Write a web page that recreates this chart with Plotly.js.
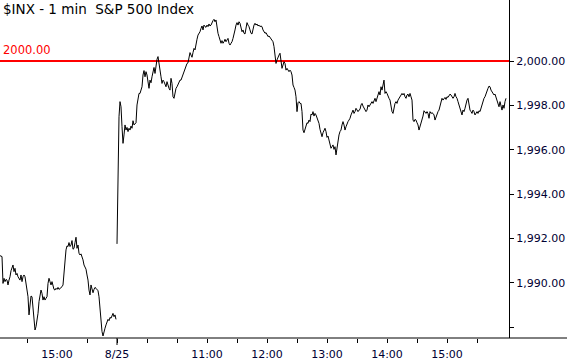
<!DOCTYPE html>
<html><head><meta charset="utf-8">
<script src="https://cdn.plot.ly/plotly-3.0.1.min.js"></script>
<style>html,body{margin:0;padding:0;background:#fff;}#chart{width:567px;height:360px;}</style>
</head><body><div id="chart"></div>
<script>
// minutes relative to the 8/25 open (9:30); prior session collapsed so its 16:00 close meets the open
const prevDayStartMin = -117;
const prevDayClose = [
1991.23,1991.22,1991.19,1989.98,1990.21,1990.06,1990.16,1990.13,1989.91,1990.13,
1990.28,1990.55,1990.66,1990.81,1990.51,1990.66,1990.36,1990.43,1990.28,1990.21,
1990.13,1990.36,1990.06,1990.28,1990.36,1990.28,1989.98,1989.71,1989.38,1988.56,
1989.23,1989.41,1989.38,1988.78,1988.41,1987.88,1988.03,1988.26,1988.63,1989.16,
1989.53,1989.68,1989.53,1989.23,1989.38,1989.23,1989.31,1989.38,1989.98,1990.21,
1990.06,1989.91,1990.06,1989.83,1989.71,1989.68,1989.76,1989.71,1989.80,1989.71,
1989.74,1989.76,1989.83,1989.91,1990.51,1990.89,1991.49,1991.67,1991.64,1991.82,
1991.64,1991.71,1991.91,1991.52,1991.56,1991.82,1992.06,1991.56,1991.71,1991.34,
1991.26,1991.31,1991.19,1991.04,1990.81,1990.74,1990.62,1990.36,1990.13,1989.68,
1989.46,1989.91,1989.68,1989.56,1989.71,1989.80,1989.76,1989.68,1989.65,1989.38,
1988.78,1988.26,1987.81,1987.61,1987.88,1987.96,1988.11,1988.26,1988.36,1988.30,
1988.45,1988.41,1988.51,1988.63,1988.48,1988.56,1988.36
];
const sessionStartMin = 0;
const sessionClose = [
1991.76,1996.14,1997.49,1998.17,1997.94,1997.04,1996.29,1996.67,1997.12,1996.89,
1997.01,1996.82,1996.97,1996.89,1997.07,1996.97,1997.31,1997.12,1997.16,1997.22,
1998.02,1998.42,1998.54,1998.54,1998.69,1998.84,1999.37,1999.57,1999.29,1999.52,
1999.37,1998.92,1998.77,1999.14,1999.02,1999.29,1999.62,1999.71,1999.44,1999.82,
2000.08,2000.20,1999.82,1999.71,1999.29,1998.99,1999.14,1999.07,1998.92,1998.84,
1999.07,1998.84,1998.77,1998.69,1999.22,1998.99,1998.39,1998.32,1998.62,1998.77,
1998.84,1998.92,1999.02,1999.14,1999.14,1999.27,1999.35,1999.57,1999.67,1999.74,
1999.89,1999.92,2000.12,2000.38,2000.27,2000.17,2000.38,2000.57,2000.50,2000.83,
2000.98,2001.17,2001.25,2001.32,2001.47,2001.58,2001.40,2001.62,2001.55,2001.52,
2001.62,2001.55,2001.67,2001.58,2001.62,2001.77,2001.82,2001.88,2001.77,2001.85,
2001.47,2001.25,2001.10,2000.87,2000.80,2000.92,2000.80,2000.87,2000.98,2000.87,
2000.95,2001.02,2000.80,2000.72,2000.80,2000.87,2001.02,2001.17,2001.40,2001.62,
2001.73,2001.62,2001.77,2001.70,2001.55,2001.32,2001.40,2001.25,2001.22,2001.47,
2001.73,2001.62,2001.55,2001.40,2001.25,2001.22,2001.47,2001.62,2001.70,2001.62,
2001.67,2001.58,2001.62,2001.55,2001.58,2001.55,2001.40,2001.32,2001.25,2001.28,
2001.17,2001.10,2001.13,2001.07,2001.02,2000.98,2000.87,2000.65,2000.35,1999.89,
2000.05,2000.20,2000.27,2000.35,1999.89,1999.67,1999.82,1999.97,1999.89,1999.59,
1999.67,1999.59,1999.52,1999.59,1999.52,1999.37,1998.92,1998.81,1998.69,1998.39,
1997.72,1998.12,1998.17,1998.09,1998.09,1997.72,1996.89,1996.77,1996.97,1997.07,
1997.22,1997.19,1997.34,1997.27,1997.61,1997.57,1997.72,1997.52,1997.64,1997.57,
1997.42,1997.27,1997.19,1996.92,1996.74,1996.59,1996.77,1996.89,1996.97,1996.82,
1996.56,1996.62,1996.47,1996.29,1996.07,1996.14,1996.22,1996.02,1996.14,1995.77,
1996.14,1996.44,1996.67,1996.82,1996.89,1997.12,1997.27,1997.12,1996.89,1997.04,
1997.19,1997.27,1997.34,1997.42,1997.57,1997.72,1997.79,1997.64,1997.72,1997.87,
1997.79,1997.72,1997.79,1997.82,1998.02,1998.09,1997.97,1997.87,1997.79,1997.72,
1997.79,1998.02,1997.94,1998.02,1998.09,1998.17,1998.09,1998.24,1998.32,1998.17,
1998.32,1998.54,1998.62,1998.47,1998.84,1998.69,1998.92,1999.14,1998.54,1998.62,
1998.54,1998.39,1998.32,1998.24,1997.94,1997.72,1997.64,1997.94,1998.09,1998.17,
1998.09,1998.24,1998.32,1998.39,1998.47,1998.54,1998.47,1998.54,1998.39,1998.32,
1998.47,1998.51,1998.39,1998.54,1998.39,1998.24,1997.34,1997.27,1997.37,1997.34,
1997.22,1997.12,1996.89,1997.04,1997.19,1997.34,1997.52,1997.76,1997.72,1997.64,
1997.72,1997.64,1997.42,1997.72,1997.64,1997.67,1997.64,1997.57,1997.34,1997.49,
1997.64,1997.72,1997.79,1997.94,1998.17,1998.32,1998.24,1998.32,1998.36,1998.27,
1998.39,1998.36,1998.42,1998.51,1998.47,1998.42,1998.32,1998.39,1998.54,1998.39,
1998.32,1998.17,1998.02,1997.94,1997.72,1997.57,1997.79,1997.72,1997.87,1998.09,
1998.24,1998.32,1997.94,1997.79,1997.72,1997.64,1997.79,1997.72,1997.57,1997.64,
1997.72,1997.64,1997.76,1997.72,1997.87,1998.09,1998.17,1998.32,1998.39,1998.54,
1998.69,1998.77,1998.87,1998.84,1998.69,1998.62,1998.54,1998.47,1998.51,1998.39,
1998.24,1998.09,1997.94,1998.17,1997.94,1997.79,1998.02,1997.87,1998.17,1998.32
];
const xLabelMins = [-60, 0, 90, 150, 210, 270, 330];
const xLabelText = ['15:00', '8/25', '11:00', '12:00', '13:00', '14:00', '15:00'];
const xTickMins = [-90, -30, 0, 30, 60, 90, 120, 150, 180, 210, 240, 270, 300, 330, 360];
const dayBreakMin = 0;
const yTickVals = [1988, 1990, 1992, 1994, 1996, 1998, 2000];
const yTickText = ['', '1,990.00', '1,992.00', '1,994.00', '1,996.00', '1,998.00', '2,000.00'];
const refLevel = 2000;
const refLabel = '2000.00';
const titleText = '$INX - 1 min  S&P 500 Index';

const xRange = [-117, 392];
const yRange = [1987.52, 2002.75];
const tickFont = {family: 'DejaVu Sans', size: 11, color: '#000033'};

const prevX = prevDayClose.map((_, i) => prevDayStartMin + i);
const sessX = sessionClose.map((_, i) => sessionStartMin + i);

const traces = [
  {x: prevX, y: prevDayClose, type: 'scatter', mode: 'lines', xaxis: 'x', yaxis: 'y',
   line: {color: '#000', width: 1}, hoverinfo: 'skip'},
  {x: sessX, y: sessionClose, type: 'scatter', mode: 'lines', xaxis: 'x2', yaxis: 'y',
   line: {color: '#000', width: 1}, hoverinfo: 'skip'}
];

const layout = {
  width: 567, height: 360,
  margin: {l: 0, r: 58, t: 0, b: 22, pad: 0},
  paper_bgcolor: '#fff', plot_bgcolor: '#fff', showlegend: false,
  xaxis: {range: xRange, tickmode: 'array', tickvals: xLabelMins, ticktext: xLabelText,
    ticks: 'outside', ticklen: 6, tickcolor: 'rgba(0,0,0,0)', showgrid: false, zeroline: false,
    showline: false, tickfont: tickFont, fixedrange: true},
  xaxis2: {overlaying: 'x', anchor: 'y', side: 'bottom', range: xRange, tickmode: 'array',
    tickvals: xTickMins, ticks: 'outside', ticklen: 4, tickcolor: '#000', tickwidth: 1,
    showticklabels: false, showgrid: false, zeroline: false, showline: false, fixedrange: true},
  yaxis: {side: 'right', range: yRange, tickmode: 'array', tickvals: yTickVals, ticktext: yTickText,
    ticks: 'outside', ticklen: 4, tickcolor: '#000', tickwidth: 1, showline: true, linecolor: '#000',
    linewidth: 1, showgrid: false, zeroline: false, tickfont: tickFont, fixedrange: true},
  shapes: [
    {type: 'line', xref: 'paper', yref: 'paper', x0: 0, x1: 567 / 509, y0: 0, y1: 0,
     line: {color: '#000', width: 1}},
    {type: 'line', xref: 'paper', yref: 'y', x0: 0, x1: 1, y0: refLevel, y1: refLevel,
     line: {color: '#ff0000', width: 2}, layer: 'below'},
    {type: 'line', xref: 'x', yref: 'paper', x0: dayBreakMin, x1: dayBreakMin, y0: 0, y1: -7 / 338,
     line: {color: '#000', width: 1}}
  ],
  annotations: [
    {text: titleText, xref: 'paper', yref: 'paper', x: 0, y: 1, xanchor: 'left', yanchor: 'top',
     xshift: 1, yshift: 1, showarrow: false,
     font: {family: 'DejaVu Sans', size: 13.5, color: '#000'}},
    {text: refLabel, xref: 'paper', yref: 'y', x: 0, y: refLevel, xanchor: 'left', yanchor: 'bottom',
     xshift: 1, yshift: 2, showarrow: false,
     font: {family: 'DejaVu Sans', size: 11.5, color: '#ff0000'}}
  ]
};

Plotly.newPlot('chart', traces, layout, {displayModeBar: false, staticPlot: true});
</script>
</body></html>
